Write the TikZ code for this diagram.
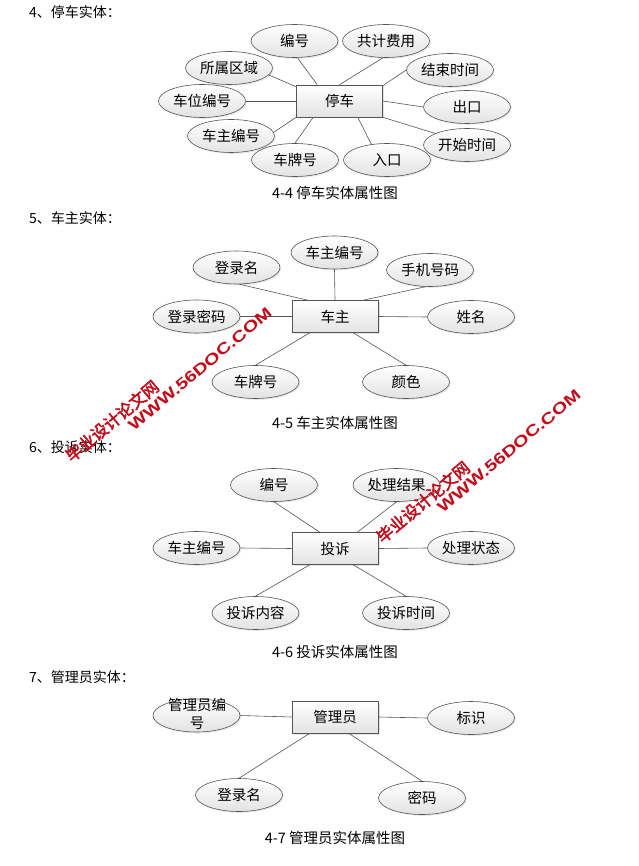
\documentclass[tikz,border=0pt]{standalone}
\usepackage{fontspec}
\setmainfont{Noto Sans CJK SC}
\newfontfamily\wmcjk[AutoFakeBold=2.5]{Noto Sans CJK SC}
\newfontfamily\wmlat{Liberation Sans}
\usetikzlibrary{shapes.geometric,shadows}
\definecolor{edgegray}{RGB}{85,85,85}
\definecolor{wmred}{RGB}{195,10,25}
\tikzset{
  attr/.style={ellipse, draw=edgegray, line width=0.6pt, top color=white, bottom color=gray!22,
    minimum width=87pt, minimum height=33pt, inner sep=0pt,
    font=\fontsize{14.5}{16}\selectfont,
    drop shadow={opacity=0.18, shadow xshift=1.3pt, shadow yshift=-1.3pt}},
  ent/.style={rectangle, draw=edgegray, line width=0.6pt, top color=white, bottom color=gray!22,
    minimum width=86pt, minimum height=32pt, inner sep=0pt,
    font=\fontsize{14.5}{16}\selectfont,
    drop shadow={opacity=0.22, shadow xshift=1.5pt, shadow yshift=-1.5pt}},
  link/.style={draw=edgegray, line width=0.6pt},
  titletext/.style={anchor=west, inner sep=0pt, font=\fontsize{14}{16}\selectfont},
  captext/.style={inner sep=0pt, font=\fontsize{14.5}{16}\selectfont},
  wmA/.style={text=wmred, rotate=40, inner sep=0pt, font=\wmcjk\bfseries\fontsize{16.5}{17}\selectfont},
  wmB/.style={text=wmred, rotate=40, inner sep=0pt, font=\wmlat\bfseries\fontsize{15.5}{16}\selectfont},
}
\begin{document}
\begin{tikzpicture}[x=1pt,y=-1pt]
\useasboundingbox[fill=white] (0,0) rectangle (638,866);

% ---------- 4 ----------
\node[titletext] (t4) at (29,12) {4、停车实体：};
\node[ent] (r1) at (339.5,101) {停车};
\node[attr] (a1) at (294.5,41) {编号};
\node[attr] (a2) at (386,41) {共计费用};
\node[attr] (a3) at (229,68) {所属区域};
\node[attr] (a4) at (450,70) {结束时间};
\node[attr] (a5) at (202,101) {车位编号};
\node[attr] (a6) at (467,107) {出口};
\node[attr] (a7) at (231,136) {车主编号};
\node[attr] (a8) at (467,145) {开始时间};
\node[attr] (a9) at (295,160) {车牌号};
\node[attr] (a10) at (387,160) {入口};
\node[captext] (cap4) at (335,193) {4-4 停车实体属性图};
\draw[link] (a1.-80) -- ([xshift=21pt]r1.north west);
\draw[link] (a2.-100) -- (r1.north);
\draw[link] (a3.-10) -- ([yshift=-2pt]r1.north west);
\draw[link] (a4.west) -- ([yshift=-1pt]r1.north east);
\draw[link] (a5.east) -- (r1.west);
\draw[link] (a6.west) -- (r1.east);
\draw[link] (a7.5) -- (r1.south west);
\draw[link] (a8.160) -- (r1.south east);
\draw[link] (a9.north) -- ([xshift=17pt]r1.south west);
\draw[link] (a10.135) -- ([xshift=-25pt]r1.south east);

% ---------- 5 ----------
\node[titletext] (t5) at (29,218) {5、车主实体：};
\node[ent] (r2) at (335,316.5) {车主};
\node[attr] (b1) at (236.5,267.5) {登录名};
\node[attr] (b2) at (334.5,252.5) {车主编号};
\node[attr] (b3) at (430,270) {手机号码};
\node[attr] (b4) at (196.5,316.5) {登录密码};
\node[attr] (b5) at (471,317) {姓名};
\node[attr] (b6) at (255.5,382) {车牌号};
\node[attr] (b7) at (406,382) {颜色};
\node[captext] (cap5) at (335,423) {4-5 车主实体属性图};
\draw[link] (b1.-80) -- ([xshift=16pt]r2.north west);
\draw[link] (b2.south) -- (r2.north);
\draw[link] (b3.-105) -- ([xshift=-15pt]r2.north east);
\draw[link] (b4.east) -- (r2.west);
\draw[link] (b5.west) -- (r2.east);
\draw[link] (b6.north) -- ([xshift=18pt]r2.south west);
\draw[link] (b7.north) -- ([xshift=-25pt]r2.south east);

% ---------- 6 ----------
\node[titletext] (t6) at (29,447) {6、投诉实体：};
\node[ent] (r3) at (335,548.5) {投诉};
\node[attr] (c1) at (274,485) {编号};
\node[attr] (c2) at (396.5,485) {处理结果};
\node[attr] (c3) at (196.5,548) {车主编号};
\node[attr] (c4) at (471,548) {处理状态};
\node[attr] (c5) at (255.5,613) {投诉内容};
\node[attr] (c6) at (406,613) {投诉时间};
\node[captext] (cap6) at (335,652) {4-6 投诉实体属性图};
\draw[link] (c1.south) -- ([xshift=28pt]r3.north west);
\draw[link] (c2.south) -- ([xshift=-21pt]r3.north east);
\draw[link] (c3.east) -- (r3.west);
\draw[link] (c4.west) -- (r3.east);
\draw[link] (c5.north) -- ([xshift=18pt]r3.south west);
\draw[link] (c6.north) -- ([xshift=-25pt]r3.south east);

% ---------- 7 ----------
\node[titletext] (t7) at (29,677) {7、管理员实体：};
\node[ent] (r4) at (335,717) {管理员};
\node[attr] (d1) at (196.5,715.5) {};
\node[inner sep=0pt, align=center, font=\fontsize{14.5}{18}\selectfont] (d1t) at (197,714) {管理员编\\号};
\node[attr] (d2) at (471,718) {标识};
\node[attr] (d3) at (239,795) {登录名};
\node[attr] (d4) at (422,798) {密码};
\node[captext] (cap7) at (335,838) {4-7 管理员实体属性图};
\draw[link] (d1.east) -- (r4.west);
\draw[link] (d2.west) -- (r4.east);
\draw[link] (d3.north) -- ([xshift=18pt]r4.south west);
\draw[link] (d4.north) -- ([xshift=57pt]r4.south west);

% ---------- watermarks ----------
\node[wmA] (w1a) at (112,421) {毕业设计论文网};
\node[wmB] (w1b) at (200,369) {\scalebox{1.3}[1]{WWW.56DOC.COM}};
\node[wmA] (w2a) at (423,502) {毕业设计论文网};
\node[wmB] (w2b) at (509,451) {\scalebox{1.3}[1]{WWW.56DOC.COM}};
\end{tikzpicture}
\end{document}
